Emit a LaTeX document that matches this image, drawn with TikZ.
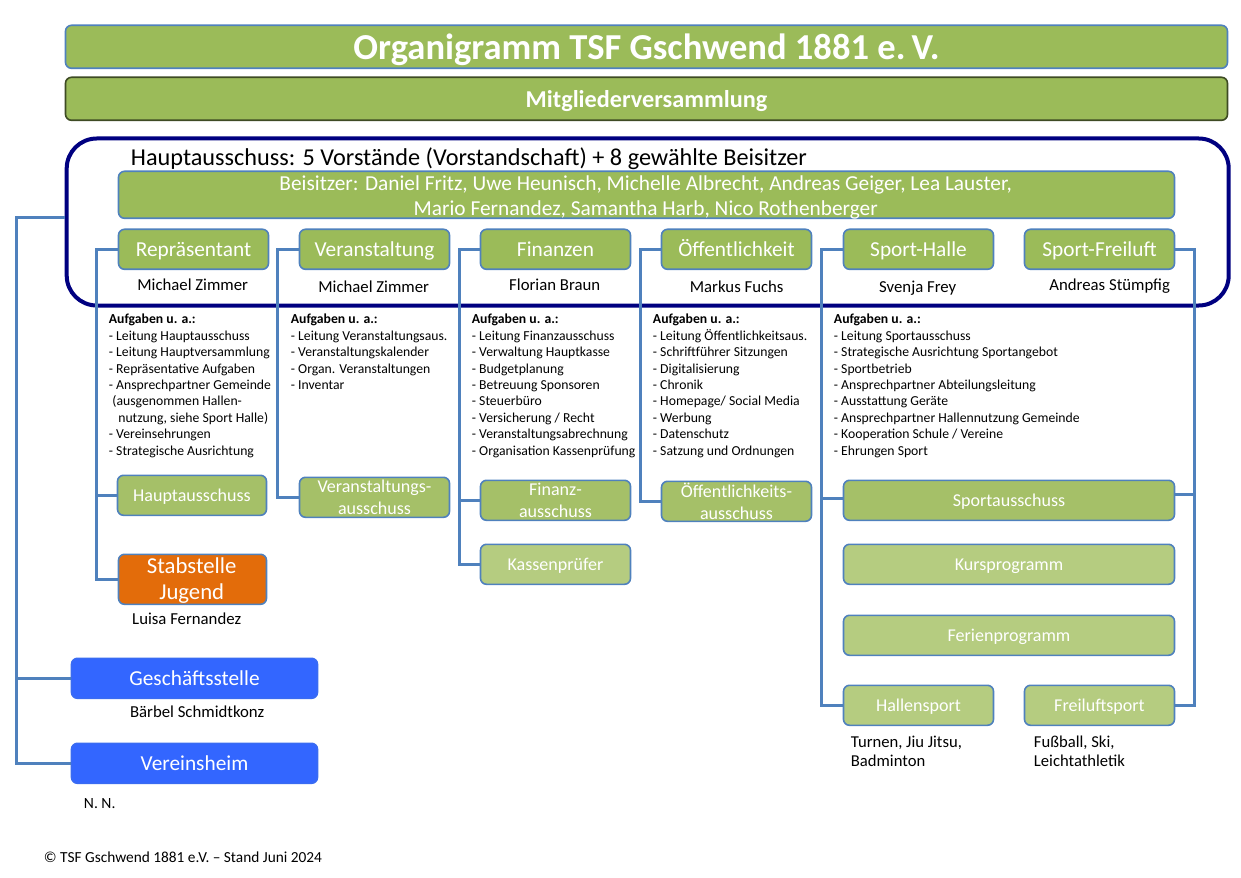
\documentclass[tikz,border=0pt]{standalone}
\usepackage{fontspec}
\setmainfont{Carlito}
\usepackage{tikz}
\usetikzlibrary{positioning}

\def\pxu{0.03cm}
\newcommand{\fsz}[2]{\fontsize{#1}{#2}\selectfont}
\definecolor{orggreen}{HTML}{9BBB59}
\definecolor{midgreen}{HTML}{A5C068}
\definecolor{palegreen}{HTML}{B5CC80}
\definecolor{orgorange}{HTML}{E36C0A}
\definecolor{orgblue}{HTML}{3366FF}
\definecolor{edgeblue}{HTML}{4F81BD}
\definecolor{framenavy}{HTML}{000080}
\tikzset{
	orgbox/.style={draw=edgeblue, line width=1.6*\pxu, rounded corners=6*\pxu, fill=orggreen, text=white, anchor=north west, inner sep=0pt, align=center, minimum width=#1*\pxu, minimum height=40*\pxu},
	lone/.style={font=\fsz{#1}{#1}, text height=0.9*#1pt, text depth=0.2*#1pt},
	subbox/.style={orgbox=#1, fill=midgreen, font=\fsz{15.4}{18.8}},
	palebox/.style={orgbox=#1, fill=palegreen, lone=15.4},
	rolebox/.style={orgbox=150, lone=18.2},
	bluebox/.style={orgbox=246, draw=orgblue!80!edgeblue, fill=orgblue, lone=18.2},
	boxtext/.style={text=white, inner sep=0pt, align=center},
	person/.style={anchor=center, inner sep=0pt, font=\fsz{14.3}{16}},
	duties/.style={anchor=north west, inner sep=0pt, align=left, font=\fsz{11.7}{14}},
	sportlist/.style={anchor=west, inner sep=0pt, align=left, font=\fsz{14.2}{16.2}},
	conn/.style={draw=edgeblue, line width=3*\pxu, line join=miter},
}

\begin{document}
\begin{tikzpicture}[x=\pxu, y=-\pxu]
	\useasboundingbox (0.3,0.5) rectangle (1241.3,878.5);

	% Title bars
	\node [orgbox=1162, minimum height=43*\pxu, lone=31.2, font=\bfseries\fsz{31.2}{34}] (title) at (65,25) {Organigramm TSF Gschwend 1881 e.\,V.};
	\node [orgbox=1162, minimum height=43*\pxu, draw=black!60!orggreen, lone=20.7, font=\bfseries\fsz{20.7}{24}] (mitglieder) at (65,77) {Mitgliederversammlung};

	% Frame of the main committee
	\node [draw=framenavy, line width=4*\pxu, rounded corners=30*\pxu, anchor=north west, inner sep=0pt, minimum width=1162*\pxu, minimum height=167*\pxu] (frame) at (65,137) {};
	\node [anchor=west, inner sep=0pt, font=\fsz{20.7}{24}] (hauptline) at (131,159.5) {Hauptausschuss: 5 Vorstände (Vorstandschaft) + 8 gewählte Beisitzer};
	\node [orgbox=1056, minimum height=47*\pxu] (beisitzer) at (118,171) {};
	\node [boxtext, font=\fsz{18.2}{21.3}] (beisitzerNames) at (646,197.5) {Beisitzer: Daniel Fritz, Uwe Heunisch, Michelle Albrecht, Andreas Geiger, Lea Lauster,\\Mario Fernandez, Samantha Harb, Nico Rothenberger};

	% Board members
	\node [rolebox] (rep) at (118,229) {Repräsentant};
	\node [rolebox] (veranst) at (299,229) {Veranstaltung};
	\node [rolebox] (fin) at (480,229) {Finanzen};
	\node [rolebox] (oeff) at (661,229) {Öffentlichkeit};
	\node [rolebox] (halle) at (843,229) {Sport-Halle};
	\node [rolebox] (freiluft) at (1024,229) {Sport-Freiluft};

	\node [person] (pRep) at (193,285) {Michael Zimmer};
	\node [person] (pVeranst) at (374,287) {Michael Zimmer};
	\node [person] (pFin) at (555,285) {Florian Braun};
	\node [person] (pOeff) at (737,287) {Markus Fuchs};
	\node [person] (pHalle) at (918,288.5) {Svenja Frey};
	\node [person] (pFreiluft) at (1110,286.5) {Andreas Stümpfig};

	% Duties below each member
	\node [duties] (dRep) at (109,314.5) {\textbf{Aufgaben u. a.:}\\- Leitung Hauptausschuss\\- Leitung Hauptversammlung\\- Repräsentative Aufgaben\\- Ansprechpartner Gemeinde\\\hspace{3pt}(ausgenommen Hallen-\\\hspace{8pt}nutzung, siehe Sport Halle)\\- Vereinsehrungen\\- Strategische Ausrichtung};
	\node [duties] (dVeranst) at (291,314.5) {\textbf{Aufgaben u. a.:}\\- Leitung Veranstaltungsaus.\\- Veranstaltungskalender\\- Organ. Veranstaltungen\\- Inventar};
	\node [duties] (dFin) at (472,314.5) {\textbf{Aufgaben u. a.:}\\- Leitung Finanzausschuss\\- Verwaltung Hauptkasse\\- Budgetplanung\\- Betreuung Sponsoren\\- Steuerbüro\\- Versicherung / Recht\\- Veranstaltungsabrechnung\\- Organisation Kassenprüfung};
	\node [duties] (dOeff) at (653,314.5) {\textbf{Aufgaben u. a.:}\\- Leitung Öffentlichkeitsaus.\\- Schriftführer Sitzungen\\- Digitalisierung\\- Chronik\\- Homepage/ Social Media\\- Werbung\\- Datenschutz\\- Satzung und Ordnungen};
	\node [duties] (dHalle) at (834,314.5) {\textbf{Aufgaben u. a.:}\\- Leitung Sportausschuss\\- Strategische Ausrichtung Sportangebot\\- Sportbetrieb\\- Ansprechpartner Abteilungsleitung\\- Ausstattung Geräte\\- Ansprechpartner Hallennutzung Gemeinde\\- Kooperation Schule / Vereine\\- Ehrungen Sport};

	% Committees
	\node [subbox=149, lone=15.4] (hausschuss) at (117,475) {Hauptausschuss};
	\node [subbox=150] (vausschuss) at (299,477) {Veranstaltungs-\\ausschuss};
	\node [subbox=150] (fausschuss) at (480,480) {Finanz-\\ausschuss};
	\node [palebox=150] (kasse) at (480,544) {Kassenprüfer};
	\node [subbox=150] (oausschuss) at (661,481) {Öffentlichkeits-\\ausschuss};
	\node [subbox=331, lone=15.4] (sausschuss) at (843,480) {Sportausschuss};
	\node [palebox=331] (kurs) at (843,544) {Kursprogramm};
	\node [palebox=331] (ferien) at (843,615) {Ferienprogramm};
	\node [palebox=150] (hallensport) at (843,685) {Hallensport};
	\node [palebox=150] (freiluftsport) at (1024,685) {Freiluftsport};
	\node [orgbox=148, minimum height=50*\pxu, fill=orgorange] (stab) at (118,554) {};
	\node [boxtext, font=\fsz{19.4}{22.2}] (stabText) at (192,581) {Stabstelle\\Jugend};
	\node [person] (pStab) at (187,619) {Luisa Fernandez};

	\node [bluebox] (ges) at (71,658) {Geschäftsstelle};
	\node [person] (pGes) at (197.5,712) {Bärbel Schmidtkonz};
	\node [bluebox] (heim) at (71,743) {Vereinsheim};
	\node [person, font=\fsz{13.3}{14}] (pHeim) at (100,804) {N. N.};

	\node [sportlist] (pHalleSport) at (851,752) {Turnen, Jiu Jitsu,\\Badminton};
	\node [sportlist] (pFreiSport) at (1034,752) {Fußball, Ski,\\Leichtathletik};

	\node [anchor=west, inner sep=0pt, font=\fsz{13.1}{14}] (stand) at (44,858) {© TSF Gschwend 1881 e.V. – Stand Juni 2024};

	% Rails from top to bottom
	\coordinate (port0) at (65,218);
	\coordinate (rail0) at (17,763);
	\coordinate (rail1) at (97,579);
	\coordinate (rail2) at (278,497);
	\coordinate (rail3) at (460,564);
	\coordinate (rail4) at (641,501);
	\coordinate (rail5) at (822,705);
	\coordinate (rail6) at (1195,705);

	\draw [conn] (port0) -| (rail0) |- (heim.west);
	\draw [conn] (ges.west) -| (rail0);
	\draw [conn] (rep.west) -| (rail1) |- (stab.west);
	\draw [conn] (hausschuss.west) -| (rail1);
	\draw [conn] (veranst.west) -| (rail2) |- (vausschuss.west);
	\draw [conn] (fin.west) -| (rail3) |- (kasse.west);
	\draw [conn] (fausschuss.west) -| (rail3);
	\draw [conn] (oeff.west) -| (rail4) |- (oausschuss.west);
	\draw [conn] (halle.west) -| (rail5) |- (hallensport.west);
	\draw [conn] ([yshift=2*\pxu]sausschuss.west) -| (rail5);
	\draw [conn] (freiluft.east) -| (rail6) |- (freiluftsport.east);
	\draw [conn] ([yshift=6*\pxu]sausschuss.east) -| (rail6);
\end{tikzpicture}
\end{document}
